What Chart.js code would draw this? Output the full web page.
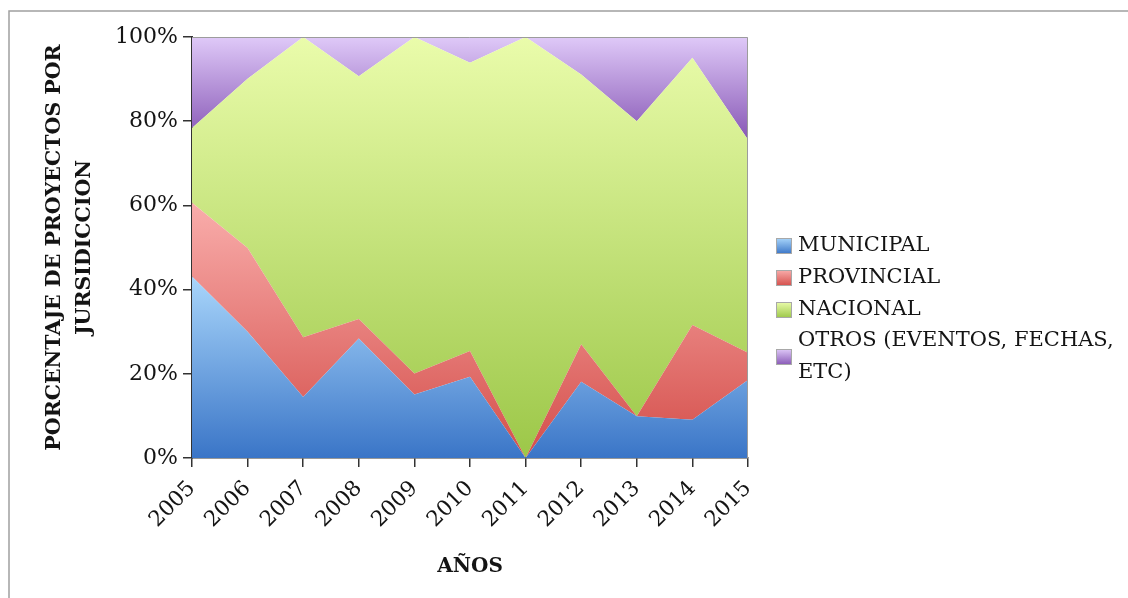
<!DOCTYPE html>
<html>
<head>
<meta charset="utf-8">
<title>Proyectos por jurisdicción</title>
<script src="https://cdn.jsdelivr.net/npm/chart.js@4"></script>
<style>
  html, body { margin: 0; padding: 0; background: #fff; }
  #wrap { width: 1128px; height: 598px; position: relative; }
</style>
</head>
<body>
<div id="wrap"><canvas id="chart"></canvas></div>
<script>
const years = ["2005", "2006", "2007", "2008", "2009", "2010", "2011", "2012", "2013", "2014", "2015"];
const municipal = [43.1, 30.0, 14.5, 28.4, 15.1, 19.3, 0, 18.1, 9.9, 9.1, 18.5];
const provincial = [17.5, 19.9, 14.2, 4.6, 5.0, 6.1, 0, 8.9, 0, 22.5, 6.5];
const nacional = [17.8, 40.2, 71.3, 57.7, 79.9, 68.5, 100, 64.1, 70.1, 63.5, 50.6];
const otros = [21.6, 9.9, 0, 9.3, 0, 6.1, 0, 8.9, 20.0, 4.9, 24.4];
const yTicks = [0, 20, 40, 60, 80, 100];

const FONT = "'DejaVu Serif', 'Liberation Serif', serif";
const INK = "#141414";

// cumulative tops, used to size each series gradient like the original
const cumProv = municipal.map((v, i) => v + provincial[i]);
const cumNac = cumProv.map((v, i) => v + nacional[i]);

const series = [
  { label: "MUNICIPAL", data: municipal, light: "#a9d6fb", dark: "#3a75c7",
    top: Math.max(...municipal), bottom: 0 },
  { label: "PROVINCIAL", data: provincial, light: "#f9adab", dark: "#d44e4a",
    top: Math.max(...cumProv), bottom: Math.min(...municipal) },
  { label: "NACIONAL", data: nacional, light: "#eafcab", dark: "#9cc748",
    top: 100, bottom: Math.min(...cumProv) },
  { label: ["OTROS (EVENTOS, FECHAS,", "ETC)"], data: otros, light: "#dfc9f8", dark: "#8757b5",
    top: 100, bottom: Math.min(...cumNac) },
];

function gradientFor(s) {
  return (context) => {
    const chart = context.chart;
    const { ctx, chartArea, scales } = chart;
    if (!chartArea || !scales.y) return s.dark;
    const y0 = scales.y.getPixelForValue(s.top);
    const y1 = scales.y.getPixelForValue(s.bottom);
    const g = ctx.createLinearGradient(0, y0, 0, y1);
    g.addColorStop(0, s.light);
    g.addColorStop(1, s.dark);
    return g;
  };
}

const frame = {
  id: "frame",
  beforeDraw(chart) {
    const { ctx } = chart;
    ctx.save();
    ctx.strokeStyle = "#a0a0a0";
    ctx.lineWidth = 1.5;
    ctx.strokeRect(9, 11, 1300, 800);
    ctx.restore();
  },
  afterDatasetsDraw(chart) {
    const { ctx, chartArea: a } = chart;
    ctx.save();
    ctx.strokeStyle = "#9c9c9c";
    ctx.lineWidth = 1;
    ctx.beginPath();
    ctx.moveTo(a.left, a.top + 0.5);
    ctx.lineTo(a.right - 0.5, a.top + 0.5);
    ctx.lineTo(a.right - 0.5, a.bottom);
    ctx.stroke();
    ctx.restore();
  },
};

const legendBox = {
  id: "legendBox",
  afterDraw(chart) {
    const { ctx } = chart;
    const rows = [246, 278, 310, 357];
    ctx.save();
    ctx.font = "21px " + FONT;
    ctx.textBaseline = "middle";
    series.forEach((s, i) => {
      const cy = rows[i];
      const g = ctx.createLinearGradient(0, cy - 8, 0, cy + 8);
      g.addColorStop(0, s.light);
      g.addColorStop(1, s.dark);
      ctx.fillStyle = g;
      ctx.fillRect(776, cy - 8, 16, 16);
      ctx.strokeStyle = "#a8a8a8";
      ctx.lineWidth = 1;
      ctx.strokeRect(776.5, cy - 7.5, 15, 15);
      ctx.fillStyle = INK;
      const lines = Array.isArray(s.label) ? s.label : [s.label];
      const lh = 32;
      const startY = cy - (lines.length - 1) * lh / 2;
      lines.forEach((t, j) => ctx.fillText(t, 798, startY + j * lh));
    });
    ctx.restore();
  },
};

new Chart(document.getElementById("chart"), {
  type: "line",
  data: {
    labels: years,
    datasets: series.map((s, i) => ({
      label: Array.isArray(s.label) ? s.label.join(" ") : s.label,
      data: s.data,
      fill: i === 0 ? "origin" : "-1",
      backgroundColor: gradientFor(s),
      borderWidth: 0,
      pointRadius: 0,
      tension: 0,
    })),
  },
  options: {
    responsive: true,
    maintainAspectRatio: false,
    animation: false,
    layout: { padding: { top: 37, right: 380, left: 0, bottom: 0 } },
    plugins: {
      legend: { display: false },
      tooltip: { enabled: false },
    },
    scales: {
      x: {
        offset: false,
        grid: { drawOnChartArea: false, tickLength: 9, color: "#333", lineWidth: 1.5 },
        border: { color: "#333", width: 1.5 },
        ticks: {
          autoSkip: false,
          minRotation: 45,
          maxRotation: 45,
          padding: 9,
          color: INK,
          font: { family: FONT, size: 21.5 },
        },
        title: {
          display: true,
          text: "AÑOS",
          color: INK,
          font: { family: FONT, size: 20, weight: "bold" },
          padding: { top: 0, bottom: 19 },
        },
        afterFit(scale) { scale.height = 140; },
      },
      y: {
        stacked: true,
        min: 0,
        max: 100,
        afterBuildTicks(scale) { scale.ticks = yTicks.map(v => ({ value: v })); },
        grid: { drawOnChartArea: false, tickLength: 9, color: "#333", lineWidth: 1.5 },
        border: { color: "#333", width: 2 },
        ticks: {
          padding: 5,
          color: INK,
          font: { family: FONT, size: 22 },
          callback: (v) => v + "%",
        },
        title: {
          display: true,
          text: ["PORCENTAJE DE PROYECTOS POR", "JURSIDICCION"],
          color: INK,
          font: { family: FONT, size: 20.5, weight: "bold", lineHeight: 1.45 },
          padding: { top: 40, bottom: 0 },
        },
        afterFit(scale) { scale.width = 192; },
      },
    },
  },
  plugins: [frame, legendBox],
});
</script>
</body>
</html>
